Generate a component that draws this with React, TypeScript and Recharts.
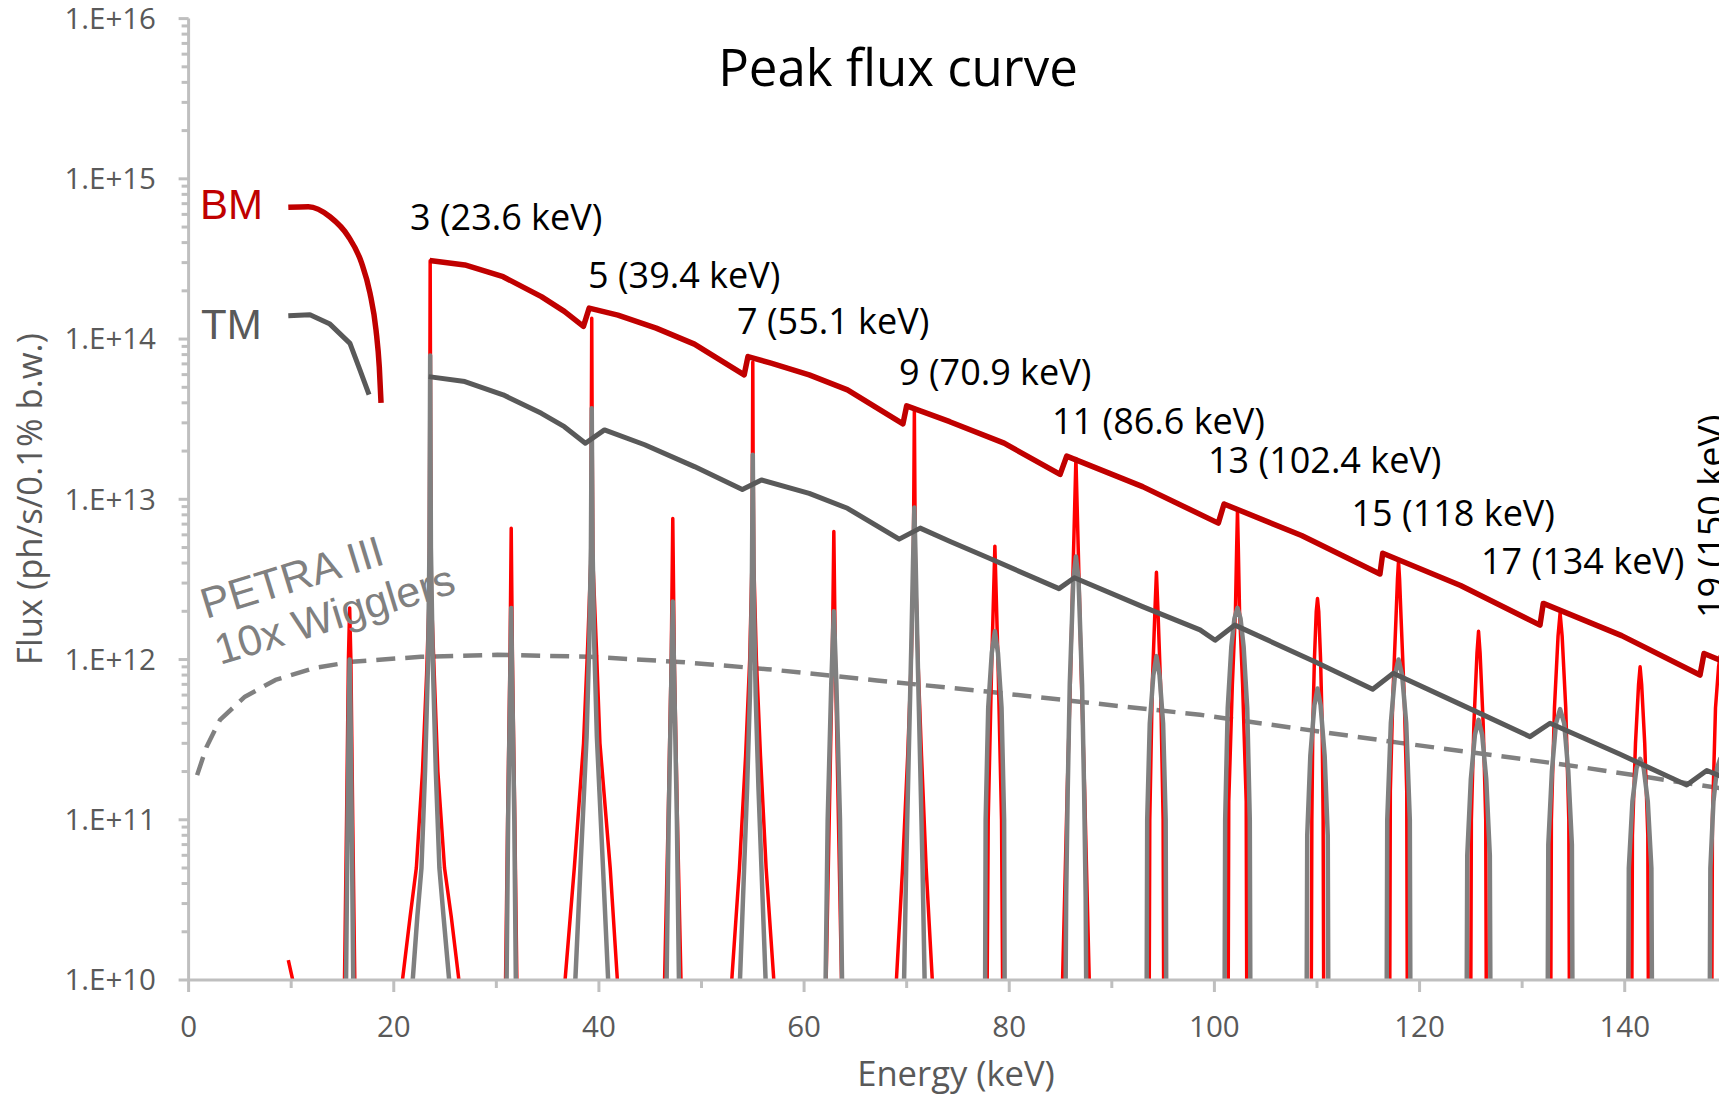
import React from 'react';
import { LineChart, Line, XAxis, YAxis } from 'recharts';

type Pt = [number, number];

// energy (keV), flux (ph/s/0.1% b.w.)
const bmFundamental: Pt[] = [
  [9.72, 6.65e14], [11.67, 6.7e14], [13.78, 5.8e14], [15.57, 4.37e14], [16.87, 2.98e14],
  [17.68, 1.94e14], [18.27, 1.14e14], [18.59, 6.7e13], [18.76, 4.0e13],
];

const bmHarmonics: Pt[] = [
  [23.5, 3.09e14], [26.93, 2.9e14], [30.66, 2.45e14], [34.39, 1.84e14], [36.63, 1.49e14], [38.49, 1.2e14],
  [39.05, 1.56e14], [41.85, 1.41e14], [45.58, 1.17e14], [49.31, 9.3e13], [54.16, 5.98e13],
  [54.53, 7.78e13], [56.78, 7.08e13], [60.5, 5.98e13], [64.23, 4.82e13], [69.64, 2.96e13],
  [70.0, 3.83e13], [74.2, 3.05e13], [79.5, 2.24e13], [84.96, 1.43e13],
  [85.6, 1.86e13], [93.0, 1.2e13], [100.38, 7.1e12],
  [100.94, 9.35e12], [108.5, 5.94e12], [116.14, 3.42e12],
  [116.41, 4.61e12], [124.0, 2.9e12], [131.74, 1.64e12],
  [132.06, 2.24e12], [139.7, 1.41e12], [147.34, 8.0e11],
  [147.73, 1.09e12], [150.0, 9.5e11],
];

const tmFundamental: Pt[] = [
  [9.72, 1.4e14], [11.83, 1.42e14], [13.78, 1.24e14], [15.73, 9.4e13], [16.71, 6.4e13], [17.59, 4.5e13],
];

const tmHarmonics: Pt[] = [
  [23.4, 5.83e13], [26.93, 5.43e13], [30.66, 4.49e13], [34.39, 3.44e13], [36.63, 2.84e13], [38.68, 2.24e13],
  [40.54, 2.71e13], [44.46, 2.19e13], [49.31, 1.6e13], [53.98, 1.15e13],
  [55.84, 1.32e13], [60.5, 1.09e13], [64.23, 8.79e12], [69.27, 5.64e12],
  [71.32, 6.61e12], [74.24, 5.45e12], [78.0, 4.3e12], [84.85, 2.77e12],
  [86.35, 3.24e12], [93.0, 2.14e12], [98.6, 1.53e12], [100.07, 1.32e12],
  [102.0, 1.64e12], [109.8, 9.7e11], [115.43, 6.53e11],
  [117.44, 8.2e11], [124.0, 5.25e11], [130.77, 3.3e11],
  [132.72, 4.0e11], [139.5, 2.57e11], [146.04, 1.65e11],
  [148.0, 2.03e11], [150.0, 1.8e11],
];

const petraWigglers: Pt[] = [
  [0.83, 1.9e11], [1.76, 2.86e11], [3.06, 4.2e11], [5.49, 5.86e11], [8.47, 7.46e11], [12.2, 8.83e11],
  [15.93, 9.7e11], [22.66, 1.04e12], [30.1, 1.07e12], [39.07, 1.04e12], [47.9, 9.66e11], [56.4, 8.71e11],
  [67.1, 7.41e11], [77.8, 6.31e11], [88.5, 5.31e11], [98.6, 4.52e11], [108.0, 3.72e11], [118.1, 3.02e11],
  [134.3, 2.2e11], [150.0, 1.55e11],
];

// harmonic lines of the BM spectrum, one list per harmonic
const bmSpectrum: Pt[][] = [
  [[9.72, 1.33e10], [10.15, 1.0e10]],
  [[15.2, 1e10], [15.4, 1e11], [15.58, 1e12], [15.7, 2.1e12], [15.82, 1e12], [16.0, 1e11], [16.2, 1e10]],
  [[20.85, 1e10], [21.6, 2.5e10], [22.2, 5e10], [22.8, 2e11], [23.2, 8e11], [23.45, 2.5e12], [23.5, 2e13],
    [23.55, 3.08e14], [23.6, 2e13], [23.67, 2.5e12], [23.95, 8e11], [24.3, 2e11], [24.95, 5e10],
    [25.6, 2.5e10], [26.35, 1e10]],
  [[30.9, 1e10], [31.1, 1e11], [31.33, 1e12], [31.45, 6.6e12], [31.57, 1e12], [31.8, 1e11], [32.0, 1e10]],
  [[36.7, 1e10], [37.6, 5e10], [38.5, 3e11], [38.9, 1.2e12], [39.2, 4e12], [39.25, 2e13], [39.3, 1.35e14],
    [39.35, 2e13], [39.42, 4e12], [39.75, 1.2e12], [40.1, 3e11], [41.1, 5e10], [41.8, 1e10]],
  [[46.4, 1e10], [46.75, 1e11], [47.05, 1e12], [47.2, 7.6e12], [47.35, 1e12], [47.65, 1e11], [48.0, 1e10]],
  [[52.95, 1e10], [53.7, 5e10], [54.3, 2.5e11], [54.7, 1e12], [54.92, 4e12], [54.97, 2e13], [55.0, 7.2e13],
    [55.03, 2e13], [55.1, 4e12], [55.35, 1e12], [55.75, 2.5e11], [56.3, 5e10], [57.05, 1e10]],
  [[62.15, 1e10], [62.45, 1e11], [62.75, 1e12], [62.9, 6.3e12], [63.05, 1e12], [63.35, 1e11], [63.65, 1e10]],
  [[69.0, 1e10], [69.6, 5e10], [70.1, 2.5e11], [70.45, 1e12], [70.65, 4e12], [70.75, 3.55e13], [70.85, 4e12],
    [71.1, 1e12], [71.45, 2.5e11], [71.9, 5e10], [72.5, 1e10]],
  [[77.85, 1e10], [77.95, 1e11], [78.3, 1e12], [78.6, 5.1e12], [78.9, 1e12], [79.25, 1e11], [79.35, 1e10]],
  [[85.2, 1e10], [85.4, 3.3e10], [85.65, 1.5e11], [85.95, 7e11], [86.2, 3.2e12], [86.38, 9e12], [86.5, 1.8e13],
    [86.62, 9e12], [86.8, 3.2e12], [87.05, 7e11], [87.35, 1.5e11], [87.6, 3.3e10], [87.8, 1e10]],
  [[93.65, 1e10], [93.7, 1e11], [93.95, 7e11], [94.2, 2e12], [94.35, 3.5e12], [94.5, 2e12], [94.75, 7e11],
    [95.0, 1e11], [95.05, 1e10]],
  [[101.35, 1e10], [101.4, 1.3e11], [101.75, 7e11], [102.05, 2e12], [102.17, 5e12], [102.25, 8.5e12],
    [102.33, 5e12], [102.45, 2e12], [102.75, 7e11], [103.1, 1.3e11], [103.15, 1e10]],
  [[109.45, 1e10], [109.5, 1e11], [109.6, 4e11], [109.75, 1e12], [109.93, 2e12], [110.05, 2.4e12],
    [110.17, 2e12], [110.35, 1e12], [110.5, 4e11], [110.6, 1e11], [110.65, 1e10]],
  [[117.1, 1e10], [117.15, 1.5e11], [117.4, 6e11], [117.7, 1.8e12], [117.85, 3.2e12], [117.95, 4.1e12],
    [118.05, 3.2e12], [118.2, 1.8e12], [118.5, 6e11], [118.75, 1.5e11], [118.8, 1e10]],
  [[125.0, 1e10], [125.05, 1e11], [125.3, 4e11], [125.6, 1.1e12], [125.75, 1.5e12], [125.9, 1.1e12],
    [126.2, 4e11], [126.45, 1e11], [126.5, 1e10]],
  [[132.8, 1e10], [132.85, 1e11], [133.15, 5e11], [133.5, 1.4e12], [133.7, 1.95e12], [133.9, 1.4e12],
    [134.25, 5e11], [134.55, 1e11], [134.6, 1e10]],
  [[140.7, 1e10], [140.75, 8e10], [141.05, 3e11], [141.35, 7e11], [141.5, 9e11], [141.65, 7e11],
    [141.95, 3e11], [142.25, 8e10], [142.3, 1e10]],
  [[148.5, 1e10], [148.55, 1e11], [148.85, 5e11], [149.15, 9e11], [149.3, 1.05e12], [149.45, 9e11],
    [149.75, 5e11], [150.05, 1e11], [150.1, 1e10]],
];

// harmonic lines of the TM spectrum
const tmSpectrum: Pt[][] = [
  [[15.35, 1e10], [15.5, 1e11], [15.62, 5e11], [15.7, 1e12], [15.78, 5e11], [15.9, 1e11], [16.05, 1e10]],
  [[21.85, 1e10], [22.3, 2.5e10], [22.7, 5e10], [23.05, 2e11], [23.35, 1e12], [23.48, 5e12], [23.55, 7.9e13],
    [23.62, 5e12], [23.8, 1e12], [24.1, 2e11], [24.45, 5e10], [24.85, 2.5e10], [25.4, 1e10]],
  [[31.0, 1e10], [31.15, 1e11], [31.35, 7e11], [31.45, 2.1e12], [31.55, 7e11], [31.75, 1e11], [31.9, 1e10]],
  [[37.7, 1e10], [38.2, 5e10], [38.55, 1.5e11], [38.8, 3.3e11], [39.05, 1.2e12], [39.22, 5e12], [39.3, 3.7e13],
    [39.38, 5e12], [39.55, 1.2e12], [39.8, 3.3e11], [40.05, 1.5e11], [40.4, 5e10], [40.9, 1e10]],
  [[46.6, 1e10], [46.8, 1e11], [47.05, 7e11], [47.2, 2.3e12], [47.35, 7e11], [47.6, 1e11], [47.8, 1e10]],
  [[53.75, 1e10], [54.1, 4e10], [54.45, 1.6e11], [54.72, 6e11], [54.9, 2.5e12], [55.0, 1.9e13], [55.1, 2.5e12],
    [55.28, 6e11], [55.55, 1.6e11], [55.9, 4e10], [56.25, 1e10]],
  [[62.1, 1e10], [62.3, 1e11], [62.65, 7e11], [62.9, 2e12], [63.15, 7e11], [63.5, 1e11], [63.7, 1e10]],
  [[69.75, 1e10], [69.95, 5e10], [70.2, 2.5e11], [70.45, 1.2e12], [70.62, 4e12], [70.75, 8.9e12], [70.88, 4e12],
    [71.05, 1.2e12], [71.3, 2.5e11], [71.55, 5e10], [71.75, 1e10]],
  [[77.65, 1e10], [77.7, 1e11], [77.95, 5e11], [78.3, 1.1e12], [78.6, 1.5e12], [78.9, 1.1e12], [79.25, 5e11],
    [79.5, 1e11], [79.55, 1e10]],
  [[85.5, 1e10], [85.55, 3.3e10], [85.7, 1.5e11], [85.9, 7e11], [86.25, 3.2e12], [86.5, 4.4e12], [86.75, 3.2e12],
    [87.1, 7e11], [87.3, 1.5e11], [87.45, 3.3e10], [87.5, 1e10]],
  [[93.4, 1e10], [93.45, 1e11], [93.7, 4e11], [94.05, 8e11], [94.35, 1.05e12], [94.65, 8e11], [95.0, 4e11],
    [95.25, 1e11], [95.3, 1e10]],
  [[101.0, 1e10], [101.05, 1e11], [101.3, 5e11], [101.65, 1.2e12], [101.95, 1.8e12], [102.25, 2.1e12],
    [102.55, 1.8e12], [102.85, 1.2e12], [103.2, 5e11], [103.45, 1e11], [103.5, 1e10]],
  [[109.0, 1e10], [109.05, 8e10], [109.35, 2.5e11], [109.75, 5.2e11], [110.05, 6.6e11], [110.35, 5.2e11],
    [110.75, 2.5e11], [111.05, 8e10], [111.1, 1e10]],
  [[116.8, 1e10], [116.85, 1e11], [117.2, 4e11], [117.6, 8e11], [117.95, 1e12], [118.3, 8e11], [118.7, 4e11],
    [119.05, 1e11], [119.1, 1e10]],
  [[124.6, 1e10], [124.65, 6e10], [125.0, 1.8e11], [125.4, 3.4e11], [125.75, 4.2e11], [126.1, 3.4e11],
    [126.5, 1.8e11], [126.85, 6e10], [126.9, 1e10]],
  [[132.5, 1e10], [132.55, 7e10], [132.9, 2e11], [133.3, 4e11], [133.7, 4.9e11], [134.1, 4e11], [134.5, 2e11],
    [134.85, 7e10], [134.9, 1e10]],
  [[140.35, 1e10], [140.4, 5e10], [140.75, 1.3e11], [141.15, 2.1e11], [141.5, 2.4e11], [141.85, 2.1e11],
    [142.25, 1.3e11], [142.6, 5e10], [142.65, 1e10]],
  [[148.3, 1e10], [148.35, 5e10], [148.65, 1.3e11], [149.0, 2.1e11], [149.3, 2.4e11], [149.6, 2.1e11],
    [150.0, 1.3e11]],
];

const harmonicLabels = [
  '3 (23.6 keV)', '5 (39.4 keV)', '7 (55.1 keV)', '9 (70.9 keV)',
  '11 (86.6 keV)', '13 (102.4 keV)', '15 (118 keV)', '17 (134 keV)',
];
const edgeLabel = '19 (150 keV)';

const yMajorTicks = [1e10, 1e11, 1e12, 1e13, 1e14, 1e15, 1e16];
const yMinorSteps = [2, 3, 4, 5, 6, 7, 8, 9];
const xTicks = [0, 10, 20, 30, 40, 50, 60, 70, 80, 90, 100, 110, 120, 130, 140, 150];

// layout
const W = 1760;
const H = 1094;
const PLOT_LEFT = 188.6;
const PLOT_TOP = 18.6;
const PLOT_BOTTOM = 980;
const PLOT_RIGHT = 1727.3;

const AXIS = '#bfbfbf';
const LABEL = '#595959';
const BM_DARK = '#c00000';
const BM_RED = '#ff0000';
const TM_DARK = '#595959';
const TM_GREY = '#808080';

// label anchors (left end of baseline)
const harmonicLabelPos: Pt[] = [
  [410, 230], [588, 288], [737, 334], [899, 384.5],
  [1052, 434], [1208, 472.5], [1351.5, 525.5], [1481, 574],
];

type Row = { e: number; f: number | null };

// one row list per line, with a null row between separate pieces
const withGaps = (parts: Pt[][]): Row[] =>
  parts.flatMap((p) => [...p.map(([e, f]) => ({ e, f })), { e: p[p.length - 1][0], f: null }]);

const bmLowRows = withGaps([bmFundamental]);
const bmHighRows = withGaps([bmHarmonics]);
const tmEnvelope = withGaps([tmFundamental, tmHarmonics]);
const petraRows = withGaps([petraWigglers]);
const bmRows = withGaps(bmSpectrum);
const tmRows = withGaps(tmSpectrum);

const yTicks = [
  ...yMajorTicks,
  ...yMajorTicks.slice(0, -1).flatMap((m) => yMinorSteps.map((k) => k * m)),
].sort((a, b) => a - b);

const YTick = ({ y, payload }: any) => {
  const major = yMajorTicks.includes(payload.value);
  return (
    <g>
      <line x1={PLOT_LEFT - (major ? 10 : 7)} x2={PLOT_LEFT} y1={y} y2={y} stroke={AXIS} strokeWidth={3} />
      {major && (
        <text x={156} y={y + 10.3} textAnchor="end" fontSize={29.5} fill={LABEL}>
          {`1.E+${Math.round(Math.log10(payload.value))}`}
        </text>
      )}
    </g>
  );
};

const XTick = ({ x, payload }: any) => {
  const major = payload.value % 20 === 0;
  return (
    <g>
      <line x1={x} x2={x} y1={PLOT_BOTTOM} y2={PLOT_BOTTOM + (major ? 12 : 8)} stroke={AXIS} strokeWidth={3} />
      {major && (
        <text x={x} y={1036.7} textAnchor="middle" fontSize={29.5} fill={LABEL}>
          {payload.value}
        </text>
      )}
    </g>
  );
};

const lineProps = {
  type: 'linear' as const,
  dataKey: 'f',
  dot: false,
  activeDot: false,
  isAnimationActive: false,
  connectNulls: false,
  strokeLinejoin: 'round' as const,
  legendType: 'none' as const,
};

export default function App() {
  return (
    <div
      style={{
        position: 'fixed',
        left: 0,
        top: 0,
        width: 1719,
        height: 1094,
        overflow: 'hidden',
        background: '#fff',
        fontFamily: '"Open Sans", sans-serif',
      }}
    >
      <LineChart
        width={W}
        height={H}
        margin={{ top: PLOT_TOP, right: W - PLOT_RIGHT, bottom: 0, left: 0 }}
      >
        <XAxis
          type="number"
          dataKey="e"
          domain={[0, 150]}
          ticks={xTicks}
          interval={0}
          allowDataOverflow
          height={H - PLOT_BOTTOM}
          axisLine={{ stroke: AXIS, strokeWidth: 3 }}
          tickLine={false}
          tick={(p: any) => <XTick {...p} />}
        />
        <YAxis
          type="number"
          scale="log"
          domain={[1e10, 1e16]}
          ticks={yTicks}
          interval={0}
          allowDataOverflow
          width={PLOT_LEFT}
          axisLine={{ stroke: AXIS, strokeWidth: 3 }}
          tickLine={false}
          tick={(p: any) => <YTick {...p} />}
        />
        <Line {...lineProps} data={petraRows} stroke={TM_GREY} strokeWidth={4.5} strokeDasharray="19 10" />
        <Line {...lineProps} data={bmRows} stroke={BM_RED} strokeWidth={3.5} />
        <Line {...lineProps} data={tmRows} stroke={TM_GREY} strokeWidth={4.5} />
        <Line {...lineProps} data={tmEnvelope} stroke={TM_DARK} strokeWidth={5} />
        <Line {...lineProps} type="monotone" data={bmLowRows} stroke={BM_DARK} strokeWidth={5.5} />
        <Line {...lineProps} data={bmHighRows} stroke={BM_DARK} strokeWidth={5.5} />
      </LineChart>

      <svg
        width={W}
        height={H}
        style={{ position: 'absolute', left: 0, top: 0, pointerEvents: 'none' }}
      >
        <text x={898} y={85.5} textAnchor="middle" fontSize={51} fill="#000">
          Peak flux curve
        </text>
        {harmonicLabels.map((t, i) => (
          <text key={t} x={harmonicLabelPos[i][0]} y={harmonicLabelPos[i][1]} fontSize={36} fill="#000">
            {t}
          </text>
        ))}
        <text x={1724} y={618} fontSize={36} fill="#000" transform="rotate(-90 1724 618)">
          {edgeLabel}
        </text>

        <g fontFamily='"Liberation Sans", Arial, sans-serif'>
          <text x={200} y={218.5} fontSize={42} fill={BM_DARK}>BM</text>
          <text x={201} y={338.5} fontSize={42} fill={TM_DARK}>TM</text>
          <g fill={TM_GREY} fontSize={43}>
            <text x={206} y={619} transform="rotate(-17 206 619)">PETRA III</text>
            <text x={220} y={665} transform="rotate(-17 220 665)">10x Wigglers</text>
          </g>
        </g>

        <text x={42} y={499} textAnchor="middle" fontSize={34.6} fill={LABEL} transform="rotate(-90 42 499)">
          Flux (ph/s/0.1% b.w.)
        </text>
        <text x={956} y={1086} textAnchor="middle" fontSize={34.6} fill={LABEL}>
          Energy (keV)
        </text>
      </svg>
    </div>
  );
}
